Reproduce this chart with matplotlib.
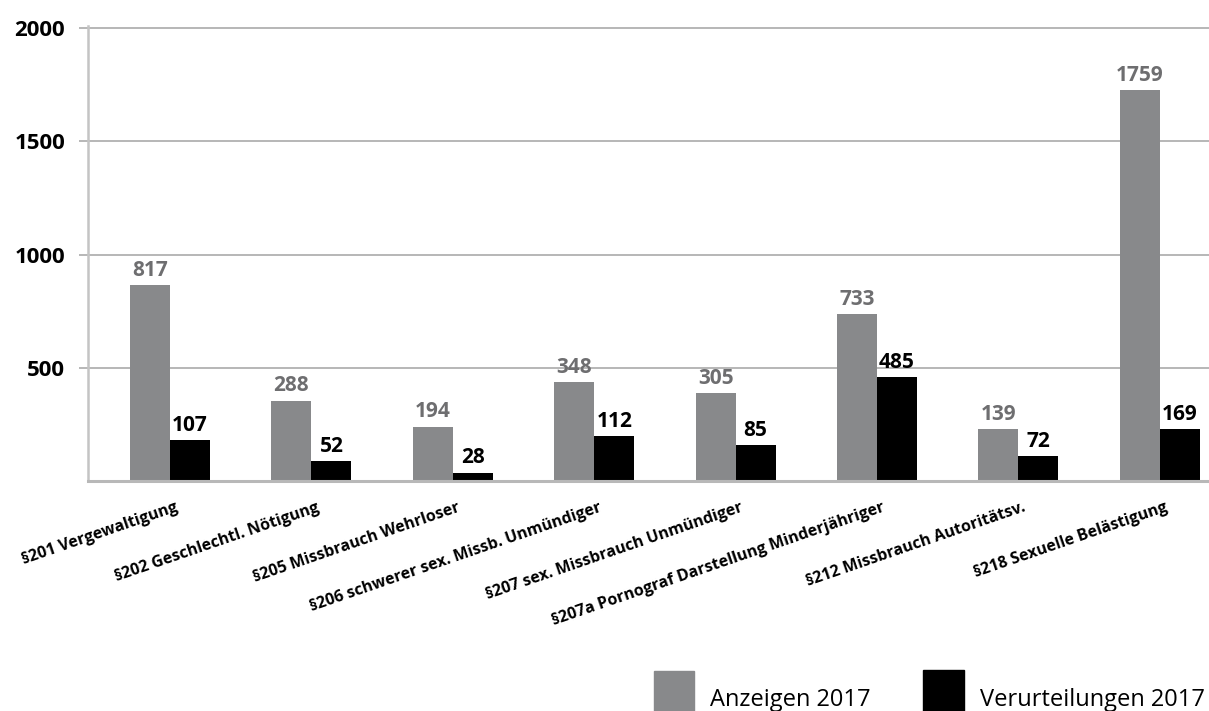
import matplotlib.pyplot as plt
import numpy as np
from matplotlib.patches import Rectangle

plt.rcParams['font.family'] = ['Open Sans', 'DejaVu Sans']

kategorien = ['§201 Vergewaltigung', '§202 Geschlechtl. Nötigung',
              '§205 Missbrauch Wehrloser', '§206 schwerer sex. Missb. Unmündiger',
              '§207 sex. Missbrauch Unmündiger', '§207a Pornograf Darstellung Minderjähriger',
              '§212 Missbrauch Autoritätsv.', '§218 Sexuelle Belästigung']

# Beschriftungen der Balken
anzeigen = [817, 288, 194, 348, 305, 733, 139, 1759]
verurteilungen = [107, 52, 28, 112, 85, 485, 72, 169]

# Balkenhoehen (passen nicht genau zu den Beschriftungen)
anzeigen_hoehe = [868, 357, 242, 439, 390, 738, 231, 1725]
verurteilungen_hoehe = [181, 90, 39, 202, 162, 460, 112, 231]

y_ticks = [500, 1000, 1500, 2000]

grau = '#88898b'
grau_text = '#6e6e70'
linie = '#a3a3a3'

fig = plt.figure(figsize=(12.09, 7.11), dpi=100)
ax = fig.add_axes([0.0728, 0.3228, 0.9272, 0.6410])

x = np.arange(len(kategorien))
w = 0.283
ax.bar(x - w / 2, anzeigen_hoehe, w, color=grau, zorder=3)
ax.bar(x + w / 2, verurteilungen_hoehe, w, color='black', zorder=3)

for xi, h, v in zip(x, anzeigen_hoehe, anzeigen):
    ax.annotate(str(v), (xi - w / 2, h), xytext=(0, 3), textcoords='offset points',
                ha='center', va='bottom', fontsize=15, fontweight='bold', color=grau_text)
for xi, h, v in zip(x, verurteilungen_hoehe, verurteilungen):
    ax.annotate(str(v), (xi + w / 2, h), xytext=(0, 3), textcoords='offset points',
                ha='center', va='bottom', fontsize=15, fontweight='bold', color='black')

ax.set_xlim(-0.58, 7.348)
ax.set_ylim(0, 2010)
ax.set_yticks(y_ticks)
ax.set_yticklabels([str(t) for t in y_ticks], fontsize=16, fontweight='bold')
ax.tick_params(axis='y', length=6.5, width=1.1, color=linie, pad=10)
ax.yaxis.grid(True, color=linie, linewidth=1.1, zorder=0)

ax.set_xticks(x + 0.03)
ax.set_xticklabels(kategorien, rotation=19, ha='right', rotation_mode='anchor',
                   fontsize=11.5, fontweight='bold')
ax.tick_params(axis='x', length=0, pad=13)

for s in ['top', 'right']:
    ax.spines[s].set_visible(False)
ax.spines['left'].set_color('#c4c4c4')
ax.spines['left'].set_linewidth(1.8)
ax.spines['bottom'].set_color('#b8b8b8')
ax.spines['bottom'].set_linewidth(2.2)
ax.spines['bottom'].set_zorder(4)

# Legende
fig.add_artist(Rectangle((654 / 1209, 0), 40 / 1209, 40 / 711, transform=fig.transFigure,
                         color=grau))
fig.text(710 / 1209, 5 / 711, 'Anzeigen 2017', fontsize=17, va='baseline')
fig.add_artist(Rectangle((923 / 1209, 0), 41 / 1209, 41 / 711, transform=fig.transFigure,
                         color='black'))
fig.text(980 / 1209, 5 / 711, 'Verurteilungen 2017', fontsize=17, va='baseline')

fig.savefig('out.png', dpi=100)
